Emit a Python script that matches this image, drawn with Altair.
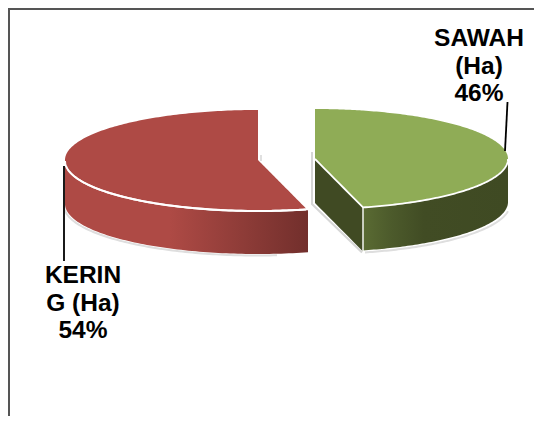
import math
import altair as alt
import pandas as pd

CATEGORIES = ["SAWAH (Ha)", "KERING (Ha)"]
VALUES = [46, 54]
LABEL_LINES = [["SAWAH", "(Ha)"], ["KERIN", "G (Ha)"]]

W, H = 526, 408
OFF = 8  # page margin
RX, RY, DEPTH = 193, 50, 43
RED_C = (258, 160)
GREEN_C = (315, 159)

XS = alt.Scale(domain=[OFF, OFF + W], range=[0, W])
YS = alt.Scale(domain=[OFF, OFF + H], range=[0, H])


def ex(c, t):
    return c[0] + RX * math.sin(t)


def ey_bot(c, x):
    v = max(0.0, 1 - ((x - c[0]) / RX) ** 2)
    return c[1] + RY * math.sqrt(v)


def ey_top(c, x):
    v = max(0.0, 1 - ((x - c[0]) / RX) ** 2)
    return c[1] - RY * math.sqrt(v)


def samples(c, x0, x1, n=90):
    t0 = math.asin(max(-1, min(1, (x0 - c[0]) / RX)))
    t1 = math.asin(max(-1, min(1, (x1 - c[0]) / RX)))
    return [ex(c, t0 + (t1 - t0) * i / n) for i in range(n + 1)]


def area(rows, color, **kw):
    return alt.Chart(pd.DataFrame(rows, columns=["x", "y", "y2"])).mark_area(
        color=color, interpolate="linear", **kw
    ).encode(
        x=alt.X("x:Q", scale=XS, axis=None),
        y=alt.Y("y:Q", scale=YS, axis=None),
        y2="y2:Q",
    )


def line(pts, color, width):
    df = pd.DataFrame(pts, columns=["x", "y"]).assign(i=range(len(pts)))
    return alt.Chart(df).mark_line(color=color, strokeWidth=width, interpolate="linear").encode(
        x=alt.X("x:Q", scale=XS, axis=None),
        y=alt.Y("y:Q", scale=YS, axis=None),
        order="i:Q",
    )


def grad(stops):
    return alt.Gradient(
        gradient="linear", x1=0, x2=1, y1=0, y2=0,
        stops=[alt.GradientStop(offset=o, color=c) for o, c in stops],
    )


share_green = VALUES[0] / sum(VALUES)
turn = 2 * math.pi * share_green
# the cut edge both slices share, measured from the top of the ellipse
dx_cut = RX * math.sin(turn)
dy_cut = -RY * math.cos(turn)

# --- red slice (KERING)
rc = RED_C
red_end = (rc[0] + dx_cut, rc[1] + dy_cut)
red_left = rc[0] - RX
xs_side = samples(rc, red_left, red_end[0] + 2)
red_side = [(x, ey_bot(rc, x) + 2, ey_bot(rc, x) + DEPTH + 1) for x in xs_side]
red_top = []
for x in samples(rc, red_left, rc[0]):
    red_top.append((x, ey_top(rc, x), ey_bot(rc, x)))
for x in samples(rc, rc[0] + 0.01, red_end[0], 30):
    f = (x - rc[0]) / dx_cut
    red_top.append((x, rc[1] + f * dy_cut, ey_bot(rc, x)))
red_white = [(x, ey_bot(rc, x) + 1) for x in samples(rc, red_left, red_end[0])]
red_shadow = [(x - 1, ey_bot(rc, x) + DEPTH + 2.5) for x in samples(rc, red_left, rc[0] + 20)]

# --- green slice (SAWAH)
gc = GREEN_C
green_end = (gc[0] + dx_cut, gc[1] + dy_cut)
green_right = gc[0] + RX
green_top = []
for x in samples(gc, gc[0], green_end[0], 30):
    f = (x - gc[0]) / dx_cut
    green_top.append((x, ey_top(gc, x), gc[1] + f * dy_cut))
for x in samples(gc, green_end[0] + 0.01, green_right):
    green_top.append((x, ey_top(gc, x), ey_bot(gc, x)))
green_inner = []
for x in samples(gc, gc[0], green_end[0], 10):
    f = (x - gc[0]) / dx_cut
    y = gc[1] + f * dy_cut
    green_inner.append((x, y, y + DEPTH + 1))
green_outer = [(x, ey_bot(gc, x), ey_bot(gc, x) + DEPTH)
               for x in samples(gc, green_end[0], green_right)]
green_white = ([(x, gc[1] + (x - gc[0]) / dx_cut * dy_cut) for x in samples(gc, gc[0], green_end[0], 10)]
               + [(x, ey_bot(gc, x)) for x in samples(gc, green_end[0], green_right)])
green_divider = [(green_end[0], green_end[1]), (green_end[0], green_end[1] + DEPTH + 1)]
green_shadow_left = [(gc[0] - 3, gc[1] - 7), (gc[0] - 3, gc[1] + DEPTH + 2), (green_end[0] - 1, green_end[1] + DEPTH + 2)]
green_shadow_right = [(x + 2, ey_bot(gc, x) + DEPTH + 2)
                      for x in samples(gc, green_end[0], green_right - 2)]

layers = [
    line(red_shadow, "#dedede", 2),
    line(green_shadow_left, "#d6d6d6", 2),
    line(green_shadow_right, "#dedede", 2),
    line([(rc[0] + 3, rc[1] - 5), (rc[0] + 3, rc[1] + 1)], "#d6d6d6", 1.5),
    area(red_side, grad([(0, "#ae4a45"), (0.43, "#ae4a45"), (0.75, "#8c3b37"), (1, "#722f2c")])),
    area(red_top, "#ae4a45"),
    line(red_white, "#ffffff", 2),
    area(green_inner, "#404a23"),
    area(green_outer, grad([(0, "#5a6b33"), (0.2, "#4c5a2b"), (0.42, "#414c24"), (1, "#3f4a23")])),
    area(green_top, "#8fac56"),
    line(green_white, "#ffffff", 1.8),
    line(green_divider, "#ffffff", 1.4),
    line([(64, 166), (64, 261)], "#000000", 1.8),
    line([(505, 151), (507.5, 102)], "#000000", 1.8),
]

# --- frame: only the left and top edges show
frame = pd.DataFrame({"a": [0]})
layers.append(alt.Chart(frame).mark_rule(color="#555555", strokeWidth=2).encode(
    x=alt.value(1), y=alt.value(0), y2=alt.value(H)))
layers.append(alt.Chart(frame).mark_rule(color="#555555", strokeWidth=2).encode(
    y=alt.value(1), x=alt.value(0), x2=alt.value(W)))

# --- labels
label_rows = []
for i, (cx, y0) in enumerate([(479, 46), (83, 283)]):
    lines = LABEL_LINES[i] + [f"{VALUES[i]}%"]
    for j, t in enumerate(lines):
        label_rows.append({"x": cx, "y": y0 + j * 27.5, "t": t})
layers.append(alt.Chart(pd.DataFrame(label_rows)).mark_text(
    font="Liberation Sans", fontSize=24.5, fontWeight="bold", color="#000000",
    align="center", baseline="alphabetic",
).encode(
    x=alt.X("x:Q", scale=XS, axis=None),
    y=alt.Y("y:Q", scale=YS, axis=None),
    text="t:N",
))

chart = alt.layer(*layers).properties(
    width=W, height=H, padding=0, background="#ffffff",
    autosize=alt.AutoSizeParams(type="none"),
).configure_view(stroke=None)

chart.save("out.html", embed_options={"renderer": "svg", "actions": False})
